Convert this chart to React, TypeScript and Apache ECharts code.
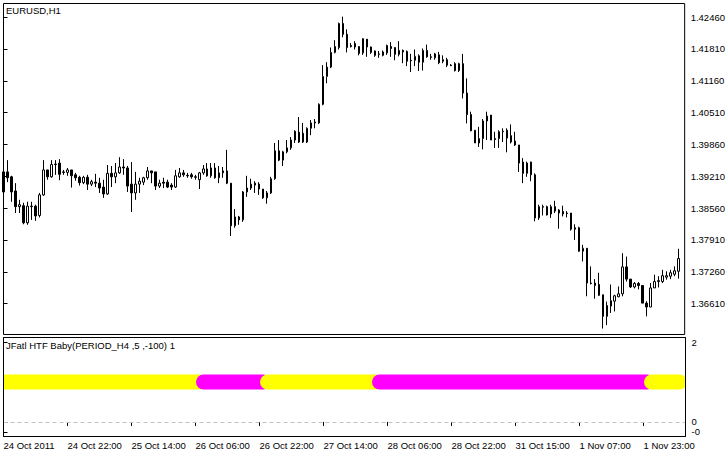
import React, { useEffect, useRef } from 'react';
import * as echarts from 'echarts';

const symbolTitle = 'EURUSD,H1';
const indicatorTitle = 'JFatl HTF Baby(PERIOD_H4 ,5 ,-100) 1';

const timeLabels = ['24 Oct 2011', '24 Oct 22:00', '25 Oct 14:00', '26 Oct 06:00', '26 Oct 22:00', '27 Oct 14:00', '28 Oct 06:00', '28 Oct 22:00', '31 Oct 15:00', '1 Nov 07:00', '1 Nov 23:00'];
const timeLabelBars = [0, 16, 32, 48, 64, 80, 96, 112, 128, 144, 160];

const priceTicks = [1.3661, 1.3726, 1.3791, 1.3856, 1.3921, 1.3986, 1.4051, 1.4116, 1.4181, 1.4246];
const priceMin = 1.35979;
const priceMax = 1.42739;

// [open, close, low, high]
const candles: number[][] = [
  [1.3930, 1.3889, 1.3887, 1.3938], [1.3930, 1.3918, 1.3909, 1.3954], [1.3920, 1.3889, 1.3869, 1.3922], [1.3891, 1.3859, 1.3846, 1.3907],
  [1.3859, 1.3863, 1.3846, 1.3873], [1.3861, 1.3826, 1.3823, 1.3867], [1.3826, 1.3860, 1.3822, 1.3869], [1.3860, 1.3859, 1.3832, 1.3869],
  [1.3860, 1.3840, 1.3830, 1.3863], [1.3841, 1.3883, 1.3837, 1.3887], [1.3883, 1.3934, 1.3881, 1.3954], [1.3934, 1.3920, 1.3914, 1.3934],
  [1.3920, 1.3945, 1.3918, 1.3954], [1.3946, 1.3945, 1.3924, 1.3954], [1.3948, 1.3925, 1.3913, 1.3956], [1.3930, 1.3929, 1.3924, 1.3934],
  [1.3929, 1.3934, 1.3922, 1.3938], [1.3934, 1.3922, 1.3898, 1.3934], [1.3924, 1.3918, 1.3912, 1.3928], [1.3919, 1.3908, 1.3902, 1.3922],
  [1.3908, 1.3919, 1.3905, 1.3922], [1.3919, 1.3905, 1.3893, 1.3924], [1.3905, 1.3910, 1.3901, 1.3914], [1.3909, 1.3907, 1.3899, 1.3926],
  [1.3907, 1.3897, 1.3887, 1.3918], [1.3899, 1.3885, 1.3877, 1.3914], [1.3885, 1.3927, 1.3883, 1.3944], [1.3927, 1.3920, 1.3899, 1.3942],
  [1.3920, 1.3928, 1.3907, 1.3948], [1.3928, 1.3940, 1.3926, 1.3960], [1.3940, 1.3938, 1.3924, 1.3956], [1.3938, 1.3901, 1.3889, 1.3942],
  [1.3905, 1.3887, 1.3848, 1.3950], [1.3887, 1.3905, 1.3873, 1.3930], [1.3905, 1.3911, 1.3887, 1.3918], [1.3909, 1.3918, 1.3903, 1.3920],
  [1.3918, 1.3932, 1.3914, 1.3940], [1.3932, 1.3928, 1.3907, 1.3932], [1.3930, 1.3901, 1.3893, 1.3930], [1.3901, 1.3907, 1.3897, 1.3914],
  [1.3909, 1.3907, 1.3897, 1.3918], [1.3909, 1.3899, 1.3897, 1.3914], [1.3903, 1.3899, 1.3893, 1.3907], [1.3899, 1.3922, 1.3897, 1.3934],
  [1.3920, 1.3928, 1.3918, 1.3938], [1.3928, 1.3924, 1.3920, 1.3934], [1.3923, 1.3922, 1.3918, 1.3928], [1.3924, 1.3920, 1.3916, 1.3928],
  [1.3920, 1.3919, 1.3914, 1.3924], [1.3914, 1.3928, 1.3895, 1.3930], [1.3928, 1.3936, 1.3924, 1.3944], [1.3936, 1.3922, 1.3920, 1.3948],
  [1.3922, 1.3938, 1.3918, 1.3948], [1.3938, 1.3918, 1.3916, 1.3948], [1.3918, 1.3928, 1.3907, 1.3942], [1.3928, 1.3932, 1.3918, 1.3940],
  [1.3932, 1.3907, 1.3905, 1.3975], [1.3907, 1.3820, 1.3799, 1.3907], [1.3820, 1.3838, 1.3816, 1.3854], [1.3838, 1.3832, 1.3822, 1.3840],
  [1.3832, 1.3889, 1.3828, 1.3891], [1.3889, 1.3897, 1.3879, 1.3922], [1.3897, 1.3905, 1.3893, 1.3916], [1.3907, 1.3903, 1.3887, 1.3911],
  [1.3905, 1.3895, 1.3883, 1.3909], [1.3895, 1.3877, 1.3875, 1.3895], [1.3877, 1.3887, 1.3865, 1.3891], [1.3887, 1.3916, 1.3885, 1.3920],
  [1.3916, 1.3973, 1.3914, 1.3989], [1.3973, 1.3954, 1.3952, 1.3995], [1.3954, 1.3971, 1.3942, 1.3973], [1.3971, 1.3979, 1.3968, 1.3995],
  [1.3979, 1.3995, 1.3975, 1.4001], [1.3995, 1.4013, 1.3989, 1.4015], [1.4011, 1.3991, 1.3989, 1.4042], [1.4009, 1.3991, 1.3989, 1.4030],
  [1.3991, 1.4019, 1.3989, 1.4021], [1.4019, 1.4030, 1.4005, 1.4036], [1.4030, 1.4032, 1.4019, 1.4038], [1.4030, 1.4068, 1.4028, 1.4070],
  [1.4068, 1.4125, 1.4066, 1.4148], [1.4125, 1.4144, 1.4111, 1.4154], [1.4144, 1.4174, 1.4142, 1.4184], [1.4174, 1.4186, 1.4172, 1.4199],
  [1.4184, 1.4233, 1.4180, 1.4235], [1.4233, 1.4211, 1.4205, 1.4247], [1.4211, 1.4184, 1.4174, 1.4221], [1.4188, 1.4186, 1.4184, 1.4193],
  [1.4192, 1.4185, 1.4180, 1.4197], [1.4186, 1.4172, 1.4168, 1.4186], [1.4173, 1.4202, 1.4169, 1.4203], [1.4201, 1.4185, 1.4165, 1.4201],
  [1.4185, 1.4174, 1.4171, 1.4186], [1.4177, 1.4168, 1.4165, 1.4178], [1.4171, 1.4170, 1.4163, 1.4177], [1.4168, 1.4175, 1.4166, 1.4178],
  [1.4173, 1.4188, 1.4169, 1.4190], [1.4186, 1.4182, 1.4165, 1.4195], [1.4184, 1.4170, 1.4158, 1.4184], [1.4170, 1.4178, 1.4166, 1.4197],
  [1.4178, 1.4175, 1.4152, 1.4180], [1.4176, 1.4156, 1.4146, 1.4178], [1.4158, 1.4157, 1.4134, 1.4171], [1.4158, 1.4166, 1.4146, 1.4180],
  [1.4167, 1.4154, 1.4136, 1.4170], [1.4154, 1.4178, 1.4137, 1.4182], [1.4178, 1.4165, 1.4163, 1.4190], [1.4165, 1.4164, 1.4159, 1.4171],
  [1.4163, 1.4171, 1.4159, 1.4173], [1.4169, 1.4153, 1.4150, 1.4175], [1.4159, 1.4156, 1.4152, 1.4168], [1.4159, 1.4148, 1.4144, 1.4163],
  [1.4148, 1.4147, 1.4146, 1.4150], [1.4151, 1.4137, 1.4135, 1.4154], [1.4137, 1.4151, 1.4134, 1.4153], [1.4151, 1.4091, 1.4080, 1.4171],
  [1.4091, 1.4047, 1.4029, 1.4121], [1.4047, 1.4014, 1.4013, 1.4053], [1.4015, 1.3989, 1.3989, 1.4015], [1.3989, 1.3998, 1.3981, 1.4022],
  [1.3998, 1.4034, 1.3976, 1.4038], [1.4034, 1.4044, 1.3995, 1.4053], [1.4046, 1.3995, 1.3995, 1.4046], [1.3998, 1.3996, 1.3979, 1.4012],
  [1.3998, 1.4012, 1.3979, 1.4015], [1.4013, 1.4012, 1.3991, 1.4019], [1.4015, 1.3999, 1.3970, 1.4019], [1.4004, 1.3991, 1.3988, 1.4027],
  [1.3993, 1.3985, 1.3983, 1.4012], [1.3985, 1.3948, 1.3930, 1.3985], [1.3950, 1.3927, 1.3907, 1.3958], [1.3927, 1.3948, 1.3920, 1.3951],
  [1.3950, 1.3924, 1.3911, 1.3951], [1.3924, 1.3836, 1.3829, 1.3927], [1.3836, 1.3859, 1.3832, 1.3863], [1.3859, 1.3858, 1.3841, 1.3863],
  [1.3859, 1.3842, 1.3841, 1.3861], [1.3844, 1.3859, 1.3836, 1.3863], [1.3859, 1.3850, 1.3846, 1.3871], [1.3852, 1.3846, 1.3814, 1.3854],
  [1.3849, 1.3844, 1.3839, 1.3861], [1.3846, 1.3845, 1.3837, 1.3850], [1.3846, 1.3813, 1.3810, 1.3846], [1.3816, 1.3813, 1.3791, 1.3823],
  [1.3816, 1.3768, 1.3767, 1.3818], [1.3768, 1.3774, 1.3747, 1.3781], [1.3774, 1.3703, 1.3676, 1.3774], [1.3703, 1.3702, 1.3700, 1.3737],
  [1.3703, 1.3698, 1.3671, 1.3711], [1.3700, 1.3678, 1.3677, 1.3724], [1.3679, 1.3635, 1.3610, 1.3679], [1.3635, 1.3657, 1.3617, 1.3665],
  [1.3656, 1.3667, 1.3642, 1.3700], [1.3666, 1.3677, 1.3645, 1.3679], [1.3675, 1.3681, 1.3674, 1.3696], [1.3681, 1.3736, 1.3676, 1.3764],
  [1.3736, 1.3711, 1.3706, 1.3757], [1.3711, 1.3695, 1.3693, 1.3711], [1.3695, 1.3702, 1.3692, 1.3705], [1.3702, 1.3698, 1.3690, 1.3705],
  [1.3698, 1.3662, 1.3662, 1.3698], [1.3662, 1.3654, 1.3635, 1.3666], [1.3654, 1.3693, 1.3654, 1.3703], [1.3693, 1.3706, 1.3693, 1.3720],
  [1.3706, 1.3708, 1.3694, 1.3717], [1.3706, 1.3718, 1.3703, 1.3730], [1.3715, 1.3718, 1.3710, 1.3727], [1.3717, 1.3724, 1.3711, 1.3730],
  [1.3721, 1.3728, 1.3717, 1.3737], [1.3727, 1.3753, 1.3712, 1.3773],
];

// indicator: constant level, colour switches between trend states (runs of bars)
const indicatorLevel = 1;
const stateRunStarts = [0, 50, 66, 94, 162];
const stateRunValues = ['up', 'down', 'up', 'down', 'up'];
const stateColors: Record<string, string> = { up: '#FFFF00', down: '#FF00FF' };
const indicatorTicks = [2, 0, -0.25];
const indicatorMin = -0.365;
const indicatorMax = 2.117;

const FONT = "'Liberation Sans', Arial, sans-serif";
const FS = 9.5;

export default function App() {
  const ref = useRef<HTMLDivElement>(null);
  useEffect(() => {
    if (!ref.current) return;
    const chart = echarts.init(ref.current, null, { renderer: 'svg' });
    const barCount = candles.length;
    const xMax = barCount + 0.5;

    const txt = { fontFamily: FONT, fontSize: FS, color: '#000' };

    const runSeries = stateRunStarts.map((start, k) => {
      const end = k + 1 < stateRunStarts.length ? stateRunStarts[k + 1] - 1 : barCount - 1;
      const data: number[][] = [];
      for (let i = start; i <= end; i++) data.push([i, indicatorLevel]);
      const color = stateColors[stateRunValues[k]];
      return {
        type: 'line', xAxisIndex: 1, yAxisIndex: 1,
        data, showSymbol: false, symbol: 'none', clip: true,
        lineStyle: { width: 15, color, cap: 'round', join: 'round' },
        itemStyle: { color },
        z: 2 + k * 0.01,
        ...(k === 0
          ? {
              markLine: {
                silent: true, symbol: ['none', 'none'], label: { show: false },
                lineStyle: { color: '#c0c0c0', type: [4, 3], width: 1, cap: 'butt' },
                data: [{ yAxis: 0 }],
              },
            }
          : {}),
      };
    });

    chart.setOption({
      animation: false,
      backgroundColor: '#ffffff',
      title: [
        { text: symbolTitle, left: 6, top: 5, padding: 0, textStyle: { ...txt, fontWeight: 'normal' } },
        { text: indicatorTitle, left: 6, top: 340, padding: 0, textStyle: { ...txt, fontWeight: 'normal' } },
      ],
      grid: [
        { left: 3.5, top: 3.5, width: 682, height: 331, show: true, borderColor: '#000', borderWidth: 1, backgroundColor: '#fff' },
        { left: 3.5, top: 337.5, width: 682, height: 99, show: true, borderColor: '#000', borderWidth: 1, backgroundColor: '#fff' },
      ],
      // panel edge masks: keep the thick indicator band inside its frame
      graphic: [
        { type: 'rect', silent: true, z: 100, shape: { x: 0, y: 365, width: 3, height: 30 }, style: { fill: '#ffffff' } },
        { type: 'rect', silent: true, z: 100, shape: { x: 686, y: 365, width: 6, height: 30 }, style: { fill: '#ffffff' } },
        { type: 'rect', silent: true, z: 101, shape: { x: 3.5, y: 337.5, width: 682, height: 99 }, style: { fill: 'none', stroke: '#000', lineWidth: 1 } },
      ],
      xAxis: [
        { type: 'value', gridIndex: 0, min: 0, max: xMax, show: false },
        {
          type: 'value', gridIndex: 1, min: 0, max: xMax,
          axisLine: { show: false }, splitLine: { show: false },
          axisTick: { show: true, customValues: timeLabelBars, length: 4, lineStyle: { color: '#000' } },
          axisLabel: {
            customValues: timeLabelBars, align: 'left', margin: 4, hideOverlap: false, ...txt,
            formatter: (v: number) => {
              const k = timeLabelBars.indexOf(Math.round(v));
              return k >= 0 ? timeLabels[k] : '';
            },
          },
        },
      ],
      yAxis: [
        {
          type: 'value', gridIndex: 0, position: 'right', min: priceMin, max: priceMax,
          axisLine: { show: false }, splitLine: { show: false },
          axisTick: { show: true, customValues: priceTicks, length: 4, lineStyle: { color: '#000' } },
          axisLabel: { customValues: priceTicks, margin: 6, hideOverlap: false, ...txt, formatter: (v: number) => v.toFixed(5) },
        },
        {
          type: 'value', gridIndex: 1, position: 'right', min: indicatorMin, max: indicatorMax,
          axisLine: { show: false }, splitLine: { show: false },
          axisTick: { show: true, customValues: indicatorTicks, length: 4, lineStyle: { color: '#000' } },
          axisLabel: {
            customValues: indicatorTicks, margin: 6, hideOverlap: false, showMinLabel: true, showMaxLabel: true, ...txt,
            formatter: (v: number) => (v === 2 ? '2' : v === 0 ? '0' : '-0'),
          },
        },
      ],
      series: [
        {
          type: 'candlestick', xAxisIndex: 0, yAxisIndex: 0,
          encode: { x: 0, y: [1, 2, 3, 4] },
          data: candles.map((c, i) => [i, c[0], c[1], c[2], c[3]]),
          barWidth: 2,
          itemStyle: { color: '#ffffff', color0: '#000000', borderColor: '#000000', borderColor0: '#000000', borderWidth: 1 },
        },
        ...runSeries,
      ],
    });
    return () => chart.dispose();
  }, []);
  return <div ref={ref} style={{ position: 'fixed', left: 0, top: 0, width: 728, height: 459, background: '#fff' }} />;
}
